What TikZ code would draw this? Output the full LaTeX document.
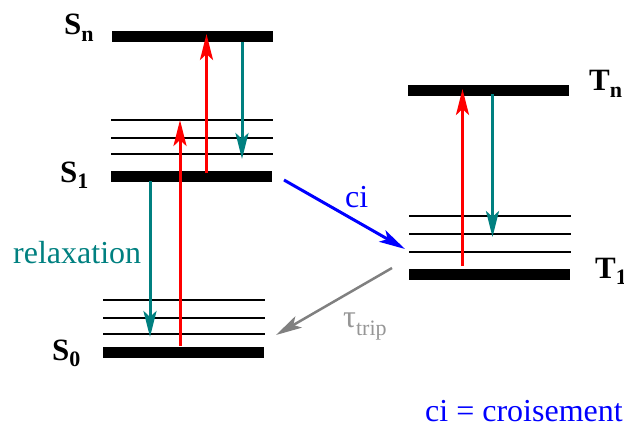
\documentclass[tikz,border=0pt]{standalone}
\usepackage{fontspec}
\setmainfont{Liberation Serif}
\usetikzlibrary{arrows.meta}
\definecolor{tealc}{RGB}{0,128,128}
\definecolor{grayc}{RGB}{128,128,128}
\definecolor{graytext}{RGB}{150,150,150}
\newcommand{\lvlsub}[1]{\raisebox{-0.22em}{\fontsize{22}{22}\selectfont #1}}
\begin{document}
\begin{tikzpicture}[x=1pt,y=-1pt,
  thickbar/.style={line width=11pt},
  thinbar/.style={line width=2pt},
  tip/.style={-{Stealth[length=26pt,width=13pt,inset=6pt]}},
  redarr/.style={tip, red, line width=3pt},
  tealarr/.style={tip, tealc, line width=3pt},
  bluearr/.style={tip, blue, line width=3pt},
  grayarr/.style={tip, grayc, line width=2.5pt},
  lvl/.style={font=\fontsize{31}{34}\selectfont\bfseries, inner sep=0pt, anchor=base west},
  txt/.style={font=\fontsize{32}{35}\selectfont, inner sep=0pt, anchor=base west},
]
\useasboundingbox (0,0) rectangle (624,428);

% singlet levels
\coordinate (snL) at (112,36.5); \coordinate (snR) at (273,36.5);
\coordinate (s1aL) at (111,120); \coordinate (s1aR) at (273,120);
\coordinate (s1bL) at (111,137.5); \coordinate (s1bR) at (273,137.5);
\coordinate (s1cL) at (111,154); \coordinate (s1cR) at (273,154);
\coordinate (s1L) at (111,176.5); \coordinate (s1R) at (272,176.5);
\coordinate (s0aL) at (103,300); \coordinate (s0aR) at (265,300);
\coordinate (s0bL) at (103,318); \coordinate (s0bR) at (265,318);
\coordinate (s0cL) at (103,334); \coordinate (s0cR) at (265,334);
\coordinate (s0L) at (103,352); \coordinate (s0R) at (264,352);
% triplet levels
\coordinate (tnL) at (408,90.5); \coordinate (tnR) at (569,90.5);
\coordinate (t1aL) at (409,216); \coordinate (t1aR) at (571,216);
\coordinate (t1bL) at (409,233.5); \coordinate (t1bR) at (571,233.5);
\coordinate (t1cL) at (409,252); \coordinate (t1cR) at (571,252);
\coordinate (t1L) at (409,274.5); \coordinate (t1R) at (570,274.5);

\draw[thickbar] (snL) -- (snR);
\draw[thinbar] (s1aL) -- (s1aR);
\draw[thinbar] (s1bL) -- (s1bR);
\draw[thinbar] (s1cL) -- (s1cR);
\draw[thickbar] (s1L) -- (s1R);
\draw[thinbar] (s0aL) -- (s0aR);
\draw[thinbar] (s0bL) -- (s0bR);
\draw[thinbar] (s0cL) -- (s0cR);
\draw[thickbar] (s0L) -- (s0R);
\draw[thickbar] (tnL) -- (tnR);
\draw[thinbar] (t1aL) -- (t1aR);
\draw[thinbar] (t1bL) -- (t1bR);
\draw[thinbar] (t1cL) -- (t1cR);
\draw[thickbar] (t1L) -- (t1R);

% arrow end points
\coordinate (r1a) at (180,346); \coordinate (r1b) at (180,120);
\coordinate (r2a) at (206.5,173); \coordinate (r2b) at (206.5,34);
\coordinate (g1a) at (242,42); \coordinate (g1b) at (242,159);
\coordinate (relA) at (150,181); \coordinate (relB) at (150,337);
\coordinate (r3a) at (462.5,266); \coordinate (r3b) at (462.5,89);
\coordinate (g2a) at (492.5,94); \coordinate (g2b) at (492.5,237);
\coordinate (ciA) at (284,180); \coordinate (ciB) at (405,249);
\coordinate (trA) at (392,268); \coordinate (trB) at (276,335);

\draw[redarr] (r1a) -- (r1b);
\draw[redarr] (r2a) -- (r2b);
\draw[tealarr] (g1a) -- (g1b);
\draw[tealarr] (relA) -- (relB);
\draw[redarr] (r3a) -- (r3b);
\draw[tealarr] (g2a) -- (g2b);
\draw[bluearr] (ciA) -- (ciB);
\draw[grayarr] (trA) -- (trB);

% labels
\node[lvl] (lsn) at (64,35) {S\lvlsub{n}};
\node[lvl] (ls1) at (60,182) {S\lvlsub{1}};
\node[lvl] (ls0) at (52,360) {S\lvlsub{0}};
\node[lvl] (ltn) at (589,91) {T\lvlsub{n}};
\node[lvl] (lt1) at (595,278) {T\lvlsub{1}};
\node[txt, text=tealc] (lrel) at (13,263) {relaxation};
\node[txt, text=blue] (lci) at (345,207) {ci};
\node[txt, text=graytext] (ltau) at (343,327) {τ\raisebox{-0.25em}{\fontsize{22}{22}\selectfont trip}};
\node[txt, text=blue] (lleg) at (425,421) {ci = croisement};
\end{tikzpicture}
\end{document}
